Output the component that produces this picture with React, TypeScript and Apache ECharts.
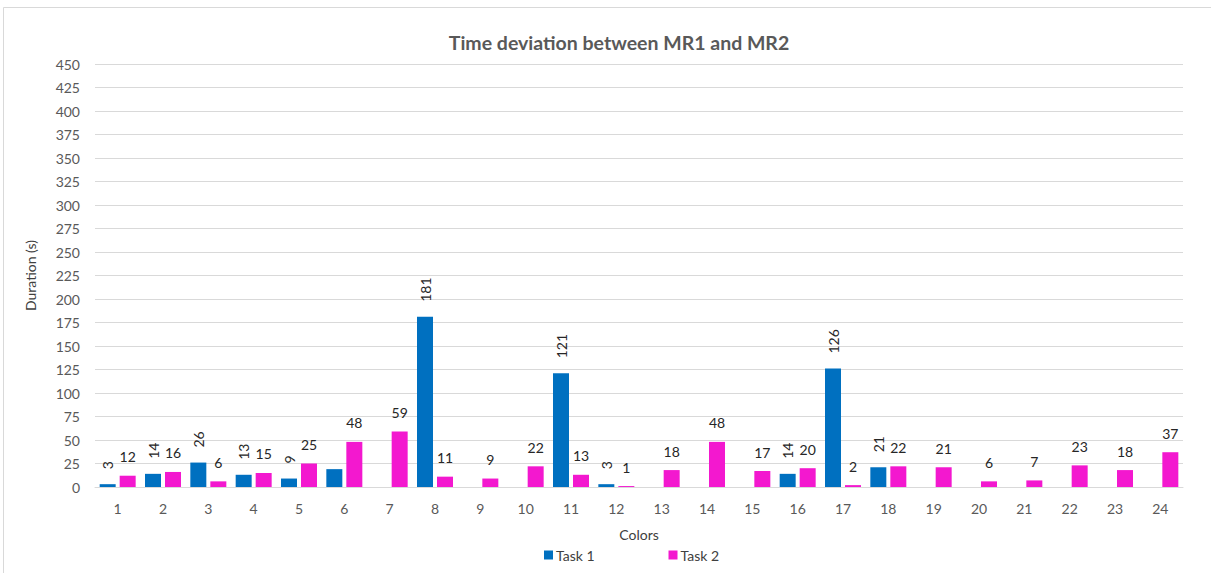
import React, { useEffect, useRef } from "react";
import * as echarts from "echarts";

const categories = ["1","2","3","4","5","6","7","8","9","10","11","12","13","14","15","16","17","18","19","20","21","22","23","24"];
const task1: (number | null)[] = [3, 14, 26, 13, 9, 19, null, 181, null, null, 121, 3, null, null, null, 14, 126, 21, null, null, null, null, null, null];
const task2: number[] = [12, 16, 6, 15, 25, 48, 59, 11, 9, 22, 13, 1, 18, 48, 17, 20, 2, 22, 21, 6, 7, 23, 18, 37];
const task1HiddenLabels = ["6"];
const yTicks = { min: 0, max: 450, interval: 25 };

const FONT = "Lato, 'Open Sans', sans-serif";

export default function App() {
  const ref = useRef<HTMLDivElement>(null);
  useEffect(() => {
    if (!ref.current) return;
    const chart = echarts.init(ref.current, null, { renderer: "svg" });
    const t1Data = task1.map((v, i) =>
      v == null
        ? "-"
        : task1HiddenLabels.includes(categories[i])
        ? { value: v, label: { show: false } }
        : v
    );
    chart.setOption({
      animation: false,
      backgroundColor: "#ffffff",
      textStyle: { fontFamily: FONT },
      title: {
        text: "Time deviation between MR1 and MR2",
        left: 614,
        textAlign: "center",
        top: 27,
        textStyle: { fontFamily: FONT, fontSize: 19.5, fontWeight: "bold", color: "#595959" },
      },
      graphic: [
        {
          type: "rect",
          shape: { x: 3.5, y: 7.5, width: 1210, height: 570 },
          style: { fill: "none", stroke: "#D9D9D9", lineWidth: 1 },
          silent: true,
        },
      ],
      legend: {
        data: ["Task 1", "Task 2"],
        left: 539,
        top: 543,
        icon: "rect",
        itemWidth: 9,
        itemHeight: 9,
        itemGap: 74,
        textStyle: { fontFamily: FONT, fontSize: 14, color: "#404040", padding: [0, 0, 0, -2] },
      },
      grid: { left: 95, right: 28, top: 64, bottom: 86 },
      xAxis: {
        type: "category",
        data: categories,
        name: "Colors",
        nameLocation: "middle",
        nameGap: 40,
        nameTextStyle: { fontFamily: FONT, fontSize: 14, color: "#404040" },
        axisLine: { lineStyle: { color: "#D9D9D9", width: 1 } },
        axisTick: { show: false },
        axisLabel: { fontFamily: FONT, fontSize: 14, color: "#595959", margin: 14 },
      },
      yAxis: {
        type: "value",
        min: yTicks.min,
        max: yTicks.max,
        interval: yTicks.interval,
        name: "Duration (s)",
        nameLocation: "middle",
        nameGap: 58,
        nameTextStyle: { fontFamily: FONT, fontSize: 14, color: "#404040" },
        axisLine: { show: false },
        axisTick: { show: false },
        axisLabel: { fontFamily: FONT, fontSize: 14, color: "#595959", margin: 15 },
        splitLine: { lineStyle: { color: "#D9D9D9", width: 1 } },
      },
      series: [
        {
          name: "Task 1",
          type: "bar",
          data: t1Data,
          barWidth: 16,
          barGap: "25%",
          itemStyle: { color: "#0070C0" },
          label: {
            show: true,
            position: "top",
            rotate: 90,
            align: "left",
            verticalAlign: "middle",
            distance: 15,
            fontFamily: FONT,
            fontSize: 14,
            color: "#262626",
          },
        },
        {
          name: "Task 2",
          type: "bar",
          data: task2,
          barWidth: 16,
          barGap: "25%",
          itemStyle: { color: "#F318CF" },
          label: {
            show: true,
            position: "top",
            distance: 12,
            fontFamily: FONT,
            fontSize: 14,
            color: "#262626",
          },
        },
      ],
    });
    return () => chart.dispose();
  }, []);
  return (
    <div
      ref={ref}
      style={{ position: "fixed", left: 0, top: 0, width: 1211, height: 573 }}
    />
  );
}
